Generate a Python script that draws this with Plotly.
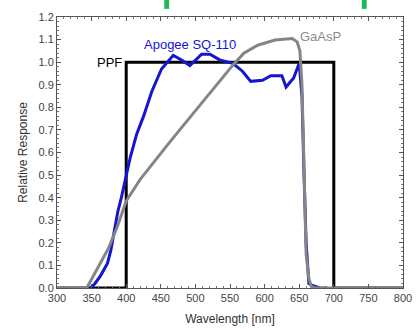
import plotly.graph_objects as go

ppf_wl = [300, 400, 400, 700, 700, 800]
ppf_val = [0, 0, 1.0, 1.0, 0, 0]

apogee_wl = [348, 355, 363, 373, 378, 382, 388, 393, 399, 406, 415, 425, 437, 451, 468, 480, 492,
             509, 521, 535, 554, 568, 580, 597, 609, 625, 631, 642, 650, 654, 657, 660, 664, 670, 680, 690]
apogee_val = [0.0, 0.02, 0.055, 0.11, 0.17, 0.24, 0.34, 0.40, 0.48, 0.58, 0.68, 0.76, 0.87, 0.97, 1.03, 1.01, 0.985,
              1.035, 1.035, 1.01, 0.995, 0.96, 0.915, 0.92, 0.94, 0.94, 0.89, 0.93, 0.995, 0.85, 0.5, 0.2, 0.02, 0.01, 0.0, 0.0]

gaasp_wl = [300, 343, 360, 375, 387, 400, 420, 440, 460, 480, 500, 520, 540, 555, 570, 590, 615, 640,
            647, 651, 654, 657, 660, 664, 668, 675, 800]
gaasp_val = [0, 0, 0.095, 0.18, 0.27, 0.385, 0.48, 0.56, 0.635, 0.71, 0.785, 0.86, 0.935, 0.99, 1.04, 1.075, 1.098, 1.105,
             1.09, 1.05, 0.9, 0.5, 0.15, 0.04, 0.005, 0, 0]

x_ticks = [300, 350, 400, 450, 500, 550, 600, 650, 700, 750, 800]
y_ticks = [0.0, 0.1, 0.2, 0.3, 0.4, 0.5, 0.6, 0.7, 0.8, 0.9, 1.0, 1.1, 1.2]

FONT = "Liberation Sans, Arial, sans-serif"

fig = go.Figure()
fig.add_trace(go.Scatter(x=ppf_wl, y=ppf_val, mode="lines",
                         line=dict(color="#000000", width=3), name="PPF"))
fig.add_trace(go.Scatter(x=apogee_wl, y=apogee_val, mode="lines",
                         line=dict(color="#1414d2", width=3), name="Apogee SQ-110"))
fig.add_trace(go.Scatter(x=gaasp_wl, y=gaasp_val, mode="lines",
                         line=dict(color="#858585", width=3), name="GaAsP"))

fig.add_annotation(x=397, y=1.0, text="PPF", showarrow=False, xanchor="right",
                   font=dict(family=FONT, size=13, color="#000000"))
fig.add_annotation(x=492, y=1.08, text="Apogee SQ-110", showarrow=False,
                   font=dict(family=FONT, size=13, color="#1414d2"))
fig.add_annotation(x=681, y=1.115, text="GaAsP", showarrow=False,
                   font=dict(family=FONT, size=13, color="#8a8a8a"))

# green decorative marks at the top
for xc in [0.317, 0.888]:
    fig.add_shape(type="rect", xref="paper", yref="paper",
                  x0=xc - 0.007, x1=xc + 0.007, y0=1.03, y1=1.07,
                  fillcolor="#1db954", line=dict(width=0))

axis_common = dict(showgrid=False, zeroline=False, showline=True, linecolor="#555555", linewidth=1,
                   mirror="allticks", ticks="inside", ticklen=4, tickcolor="#555555",
                   tickfont=dict(family=FONT, size=11, color="#444444"))

fig.update_xaxes(range=[300, 800], tickvals=x_ticks, ticktext=[str(v) for v in x_ticks],
                 minor=dict(ticks="inside", ticklen=2, dtick=10, tickcolor="#777777"),
                 title=dict(text="Wavelength [nm]", font=dict(family=FONT, size=12, color="#333333"), standoff=11),
                 **axis_common)
fig.update_yaxes(range=[0, 1.2], tickvals=y_ticks, ticktext=[f"{v:.1f}" for v in y_ticks],
                 minor=dict(ticks="inside", ticklen=2, dtick=0.02, tickcolor="#777777"),
                 title=dict(text="Relative Response", font=dict(family=FONT, size=12, color="#333333"), standoff=8),
                 **axis_common)

fig.update_layout(width=423, height=335, margin=dict(l=57, r=11, t=15, b=41),
                  paper_bgcolor="white", plot_bgcolor="white", showlegend=False)

fig.write_html("out.html", config={"displayModeBar": False},
               post_script="document.body.style.margin='0';document.body.style.overflow='hidden';")
